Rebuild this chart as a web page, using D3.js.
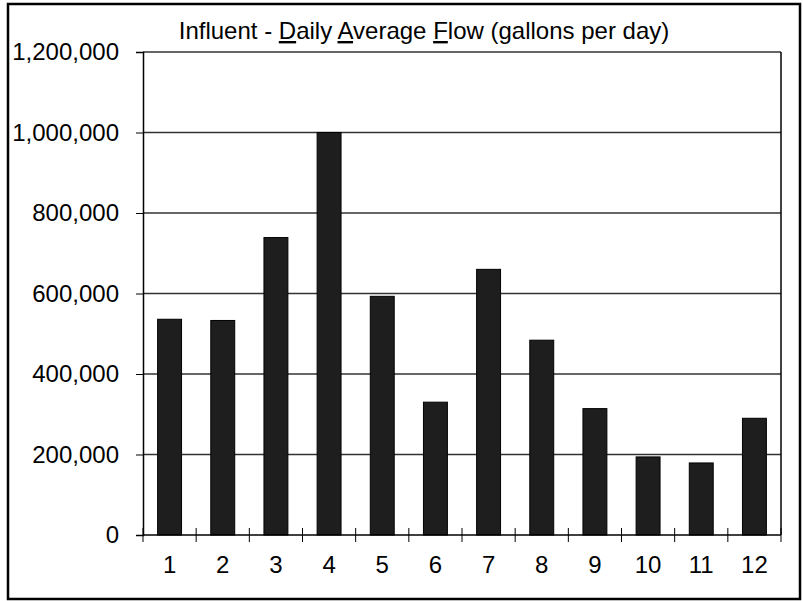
<!DOCTYPE html>
<html>
<head>
<meta charset="utf-8">
<script src="https://cdn.jsdelivr.net/npm/d3@7"></script>
<style>
  body { margin: 0; background: #fff; }
  svg { display: block; font-family: "Liberation Sans", Arial, sans-serif; }
</style>
</head>
<body>
<script>
// months 1..12 and daily average influent flow (gallons per day)
const months = ['1', '2', '3', '4', '5', '6', '7', '8', '9', '10', '11', '12'];
const flow = [536000, 533000, 739000, 1000000, 593000, 330000, 660000, 484000, 314000, 194000, 179000, 290000];
const yTicks = [0, 200000, 400000, 600000, 800000, 1000000, 1200000];

const width = 803;
const height = 601;
const margin = { top: 52, right: 22, bottom: 66, left: 143 };

const svg = d3.select("body").append("svg")
  .attr("width", width)
  .attr("height", height);

// outer frame
svg.append("rect")
  .attr("x", 8).attr("y", 4)
  .attr("width", 792).attr("height", 595)
  .attr("fill", "none")
  .attr("stroke", "#000")
  .attr("stroke-width", 2.5);

const x = d3.scaleBand()
  .domain(months)
  .range([margin.left, width - margin.right])
  .paddingInner(0.55)
  .paddingOuter(0.275);

const y = d3.scaleLinear()
  .domain([0, 1200000])
  .range([height - margin.bottom, margin.top]);

// gridlines
svg.append("g")
  .selectAll("line")
  .data(yTicks.slice(1))
  .join("line")
  .attr("x1", margin.left)
  .attr("x2", width - margin.right)
  .attr("y1", d => y(d))
  .attr("y2", d => y(d))
  .attr("stroke", "#333")
  .attr("stroke-width", 1.3);

// plot area box (right side)
svg.append("line")
  .attr("x1", width - margin.right).attr("x2", width - margin.right)
  .attr("y1", y(1200000)).attr("y2", y(0))
  .attr("stroke", "#000").attr("stroke-width", 1.5);

// bars
svg.append("g")
  .selectAll("rect")
  .data(flow)
  .join("rect")
  .attr("x", (d, i) => x(months[i]))
  .attr("y", d => y(d))
  .attr("width", x.bandwidth())
  .attr("height", d => y(0) - y(d))
  .attr("fill", "#1e1e1e")
  .attr("stroke", "#000")
  .attr("stroke-width", 1);

// y axis
const yAxis = svg.append("g")
  .attr("transform", `translate(${margin.left},0)`)
  .call(d3.axisLeft(y).tickValues(yTicks).tickSize(7).tickPadding(17).tickFormat(d3.format(",")));
yAxis.select(".domain").attr("stroke", "#000").attr("stroke-width", 1.5);
yAxis.selectAll(".tick line").attr("stroke", "#000");
yAxis.selectAll("text")
  .attr("fill", "#000")
  .style("font-size", "24px");

// x axis: ticks at category boundaries, crossing the axis
const gap = (x.step() - x.bandwidth()) / 2;
const bounds = months.map(m => x(m) - gap).concat([width - margin.right]);
svg.append("line")
  .attr("x1", margin.left).attr("x2", width - margin.right)
  .attr("y1", y(0)).attr("y2", y(0))
  .attr("stroke", "#000").attr("stroke-width", 1.5);
svg.append("g")
  .selectAll("line")
  .data(bounds)
  .join("line")
  .attr("x1", d => d).attr("x2", d => d)
  .attr("y1", y(0) - 7).attr("y2", y(0) + 7)
  .attr("stroke", "#000");
svg.append("g")
  .selectAll("text")
  .data(months)
  .join("text")
  .attr("x", d => x(d) + x.bandwidth() / 2)
  .attr("y", y(0) + 38)
  .attr("text-anchor", "middle")
  .style("font-size", "24px")
  .text(d => d);

// title with underlined accelerator letters
const title = svg.append("text")
  .attr("x", 424)
  .attr("y", 39)
  .attr("text-anchor", "middle")
  .style("font-size", "24px");
[["Influent - ", false], ["D", true], ["aily ", false], ["A", true], ["verage ", false],
 ["F", true], ["low (gallons per day)", false]].forEach(([t, u]) => {
  title.append("tspan")
    .attr("text-decoration", u ? "underline" : null)
    .text(t);
});
</script>
</body>
</html>
